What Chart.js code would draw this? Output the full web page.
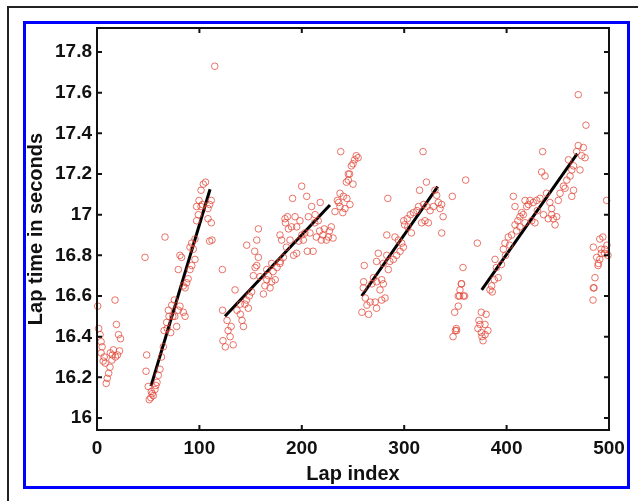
<!DOCTYPE html>
<html>
<head>
<meta charset="utf-8">
<script src="https://cdn.jsdelivr.net/npm/chart.js@4"></script>
<style>
    html, body { margin: 0; padding: 0; background: #fff; }
    body { width: 638px; height: 501px; position: relative; overflow: hidden; }
    #frame { position: absolute; left: 7px; top: 6px; width: 700px; height: 600px;
             border-left: 2px solid #222; border-top: 2px solid #222; }
    #blue-box { position: absolute; left: 23px; top: 21px; width: 607px; height: 468px;
                box-sizing: border-box; border: 3px solid #0000ff; }
    #chart-wrap { position: absolute; left: 0; top: 0; width: 638px; height: 501px; }
</style>
</head>
<body>
<div id="frame"></div>
<div id="blue-box"></div>
<div id="chart-wrap"><canvas id="lap-chart" width="638" height="501"></canvas></div>
<script>
// Datos: indice de vuelta y tiempo (s), agrupados por tanda
const lapIndex = [
    // tanda 1
    0.7, 1.6, 3, 4, 4, 5, 6, 7, 8, 9, 10, 11.4, 12.7, 13, 14.6, 15, 16, 17.6, 18, 19, 20, 21, 22, 23,
    // tanda 2
    46.9, 47.9, 48.5, 50, 51, 52.5, 53, 54, 55, 56.6, 57.5, 58.6, 59.9, 61.5, 63, 64.8, 65.5, 66.4, 68, 68.6,
    69.7, 70.3, 72, 73, 74, 75.5, 76, 77.8, 79.4, 81, 84.3, 86, 79.4, 81, 82.6, 84.3, 86, 87.6, 89, 90.8,
    92.5, 90.8, 94, 95.7, 95.7, 92.5, 97.3, 99, 97.3, 99.6, 101.6, 103.8, 106, 101.6, 102.9, 108.4, 110, 111.6,
    108.4, 111.6, 110, 112.3, 115,
    // tanda 3
    122.4, 122.6, 123, 125.3, 127, 128, 130, 131, 133, 134.8, 136.7, 140, 141.6, 143, 140, 144.5, 146, 148.7,
    151, 147.8, 152.7, 154.4, 156, 157.6, 162.5, 164, 165.8, 167.4, 169, 170.6, 172, 174, 175.8, 179, 182, 192,
    146.2, 154, 156, 157.6, 159.2, 165.8, 170.6, 178.7, 180.3, 178.7, 185, 183.6, 187, 188.5, 190, 191, 193.4,
    195, 198.2, 199.9, 201.5, 203, 204.8, 206.4, 209.6, 208, 212.6, 214.2, 217.4, 219, 220.7, 224, 227, 228.8,
    230.5, 205.4, 211, 195, 232.4, 234.7, 237.3, 240.6, 242.2, 237.3, 238, 245.4, 245.4, 243.5, 246.7, 248.4,
    250, 251.6, 253.2, 255, 250, 236, 240, 244, 247, 184, 186, 197, 200, 216, 222, 226, 213, 218,
    // tanda 4
    258.7, 260, 260.4, 261, 262, 263.6, 265.2, 266.8, 268.5, 270, 271.6, 273, 273, 273, 274.7, 276.4, 278, 278,
    279.6, 279.6, 281.3, 283, 283, 284, 284.5, 286, 289.4, 291, 292.6, 294.3, 296, 297.6, 299.2, 299.5, 300.4,
    303, 303.6, 306, 307, 309, 312.5, 314, 315, 317, 318.4, 319, 320.3, 321.7, 322, 323.6, 325.3, 328.5, 330,
    331.7, 333.3, 335, 336.5, 336.6, 338, 347, 360,
    // tanda 5
    347.7, 349.3, 350.9, 350, 351.2, 352.8, 352.8, 354.1, 354.5, 355.8, 357.4, 357.8, 359, 356,
    // tanda 6
    371.4, 372, 373, 374, 375.3, 375.3, 377, 378.9, 380, 381.8, 376, 379, 383.8, 385.4, 388, 388.7, 390, 391.8,
    395, 396.8, 398.4, 401.6, 404.9, 408.2, 409.8, 413, 414.7, 416.3, 419.6, 422.9, 426, 429.4, 432.6, 406.6,
    408.2, 418, 421.3, 427.7, 424.5, 418, 413, 435.2, 434.2, 437.5, 439, 442.3, 444, 440.7, 445.6, 447.3, 448.9,
    444, 450.5, 452.2, 455.5, 458.8, 457.1, 462, 463.7, 465.4, 460.4, 463.7, 465.4, 468.4, 470, 475, 473.3,
    471.7, 476.6, 470, 477.5, 386, 399, 403, 411, 430, 436,
    // tanda 7
    484.4, 484.7, 485.4, 486.3, 484.7, 488, 489.3, 489.6, 491, 491, 492.3, 492.6, 494, 495.6, 495.9, 497.7,
    498, 499
];

const lapTime = [
    // tanda 1
    16.55, 16.44, 16.41, 16.375, 16.32, 16.35, 16.28, 16.30, 16.27, 16.17, 16.195, 16.22, 16.25, 16.32, 16.285,
    16.31, 16.335, 16.58, 16.30, 16.46, 16.31, 16.41, 16.33, 16.39,
    // tanda 2
    16.79, 16.23, 16.31, 16.155, 16.09, 16.10, 16.13, 16.12, 16.11, 16.14, 16.16, 16.175, 16.21, 16.24, 16.30,
    16.35, 16.43, 16.89, 16.47, 16.44, 16.53, 16.50, 16.42, 16.555, 16.50, 16.58, 16.50, 16.45, 16.53, 16.55,
    16.52, 16.50, 16.73, 16.80, 16.79, 16.65, 16.64, 16.665, 16.685, 16.73, 16.75, 16.84, 16.83, 16.78, 16.88,
    16.86, 16.97, 17.00, 17.04, 17.07, 17.12, 17.15, 17.16, 17.04, 17.05, 17.03, 17.05, 17.07, 16.98, 16.96,
    16.87, 16.875, 17.73,
    // tanda 3
    16.73, 16.53, 16.38, 16.35, 16.48, 16.43, 16.40, 16.45, 16.36, 16.63, 16.53, 16.51, 16.48, 16.45, 16.56,
    16.56, 16.58, 16.60, 16.62, 16.54, 16.70, 16.74, 16.75, 16.79, 16.61, 16.65, 16.68, 16.70, 16.64, 16.67,
    16.72, 16.68, 16.74, 16.77, 16.79, 16.80, 16.85, 16.82, 16.875, 16.93, 16.695, 16.73, 16.76, 16.76, 16.875,
    16.90, 16.84, 16.98, 16.93, 16.875, 16.94, 17.08, 16.99, 16.94, 16.97, 17.14, 16.875, 16.91, 17.09, 16.99,
    17.04, 16.91, 16.96, 16.89, 16.92, 16.875, 16.90, 16.875, 16.92, 16.94, 16.885, 16.82, 16.82, 16.81,
    17.015, 17.07, 17.105, 17.09, 17.03, 17.04, 17.31, 17.20, 17.17, 17.16, 17.20, 17.24, 17.25, 17.27, 17.29,
    17.28, 17.15, 17.06, 17.01, 17.08, 17.05, 16.96, 16.99, 16.87, 16.90, 16.97, 16.93, 16.89, 17.00, 17.06,
    // tanda 4
    16.52, 16.64, 16.67, 16.75, 16.59, 16.555, 16.51, 16.57, 16.66, 16.69, 16.57, 16.54, 16.67, 16.77, 16.81,
    16.63, 16.68, 16.58, 16.66, 16.76, 16.59, 16.80, 16.90, 17.08, 16.73, 16.77, 16.78, 16.89, 16.80, 16.875,
    16.82, 16.86, 16.84, 16.97, 16.95, 16.98, 16.94, 17.00, 16.91, 17.01, 17.02, 17.04, 17.12, 16.96, 17.31,
    17.05, 16.97, 17.16, 17.04, 16.96, 17.02, 17.04, 17.12, 17.095, 17.06, 17.03, 17.05, 16.91, 16.99, 17.09,
    17.17,
    // tanda 5
    16.40, 16.52, 16.44, 16.43, 16.43, 16.55, 16.60, 16.60, 16.63, 16.66, 16.74, 16.60, 16.60, 16.66,
    // tanda 6
    16.86, 16.44, 16.48, 16.46, 16.52, 16.42, 16.38, 16.46, 16.51, 16.43, 16.40, 16.41, 16.63, 16.65, 16.68,
    16.78, 16.74, 16.69, 16.755, 16.83, 16.86, 16.89, 16.90, 16.95, 16.92, 16.99, 17.01, 17.00, 17.04, 17.07,
    17.06, 17.07, 17.08, 17.09, 17.04, 17.07, 17.05, 16.96, 16.97, 16.96, 16.94, 17.31, 17.21, 17.19, 17.105,
    17.06, 17.03, 16.98, 16.98, 16.95, 16.99, 17.00, 17.07, 17.105, 17.14, 17.17, 17.13, 17.19, 17.22, 17.24,
    17.27, 17.09, 17.12, 17.31, 17.34, 17.33, 17.29, 17.22, 17.28, 17.59, 17.44, 16.62, 16.80, 16.85, 16.97,
    17.02, 17.00,
    // tanda 7
    16.58, 16.64, 16.64, 16.69, 16.84, 16.79, 16.75, 16.76, 16.78, 16.88, 16.83, 16.81, 16.89, 16.81, 16.83,
    17.07, 16.85, 16.80
];

// Rectas de ajuste por tanda (inicio y fin)
const fitLapStart = [52.7, 125, 258.5, 375.7];
const fitTimeStart = [16.157, 16.50, 16.60, 16.63];
const fitLapEnd = [110.4, 227.5, 332.7, 469];
const fitTimeEnd = [17.125, 17.048, 17.138, 17.30];

// Ejes
const xTicks = [0, 100, 200, 300, 400, 500];
const yTicks = [16, 16.2, 16.4, 16.6, 16.8, 17, 17.2, 17.4, 17.6, 17.8];
const yTickLabels = ['16', '16.2', '16.4', '16.6', '16.8', '17', '17.2', '17.4', '17.6', '17.8'];
const X_RANGE = [0, 500];
const Y_RANGE = [15.941, 17.918];

const FAMILY = '"Liberation Sans", Arial, Helvetica, sans-serif';
const TICK_FONT = { family: FAMILY, size: 19, weight: 'bold' };
const TITLE_FONT = { family: FAMILY, size: 20, weight: 'bold' };

// Construccion de los datasets
const points = lapIndex.map((x, i) => ({ x: x, y: lapTime[i] }));

const fitDatasets = fitLapStart.map((x0, i) => ({
    type: 'line',
    data: [{ x: x0, y: fitTimeStart[i] }, { x: fitLapEnd[i], y: fitTimeEnd[i] }],
    borderColor: '#000',
    borderWidth: 3,
    pointRadius: 0,
    fill: false
}));

// Caja con marcas hacia dentro, estilo MATLAB
const boxPlugin = {
    id: 'matlabBox',
    afterDatasetsDraw(chart) {
        const { ctx, chartArea: a, scales } = chart;
        const len = 5;
        ctx.save();
        ctx.strokeStyle = '#111';
        ctx.lineWidth = 2;
        ctx.strokeRect(a.left, a.top, a.right - a.left, a.bottom - a.top);
        ctx.beginPath();
        xTicks.forEach(v => {
            const px = scales.x.getPixelForValue(v);
            ctx.moveTo(px, a.bottom); ctx.lineTo(px, a.bottom - len);
            ctx.moveTo(px, a.top); ctx.lineTo(px, a.top + len);
        });
        yTicks.forEach(v => {
            const py = scales.y.getPixelForValue(v);
            ctx.moveTo(a.left, py); ctx.lineTo(a.left + len, py);
            ctx.moveTo(a.right, py); ctx.lineTo(a.right - len, py);
        });
        ctx.stroke();
        ctx.restore();
    }
};

// Inicializacion
const ctx = document.getElementById('lap-chart').getContext('2d');
new Chart(ctx, {
    type: 'scatter',
    data: {
        datasets: [{
            data: points,
            showLine: false,
            pointStyle: 'circle',
            pointRadius: 3.3,
            pointBorderWidth: 1,
            borderColor: 'rgba(226, 70, 55, 0.75)',
            backgroundColor: 'rgba(0, 0, 0, 0)',
            clip: false
        }].concat(fitDatasets)
    },
    options: {
        responsive: false,
        animation: false,
        events: [],
        layout: { padding: { left: 0, top: 28, right: 29, bottom: 0 } },
        plugins: {
            legend: { display: false },
            tooltip: { enabled: false }
        },
        scales: {
            x: {
                type: 'linear',
                min: X_RANGE[0],
                max: X_RANGE[1],
                afterFit: s => { s.height = 71; },
                afterBuildTicks: s => { s.ticks = xTicks.map(v => ({ value: v })); },
                grid: { display: false, drawTicks: false },
                border: { display: false },
                ticks: { color: '#111', font: TICK_FONT, padding: 7, maxRotation: 0 },
                title: { display: true, text: 'Lap index', color: '#111', font: TITLE_FONT,
                         padding: { top: 0, bottom: 15 } }
            },
            y: {
                type: 'linear',
                min: Y_RANGE[0],
                max: Y_RANGE[1],
                afterFit: s => { s.width = 97; },
                afterBuildTicks: s => { s.ticks = yTicks.map(v => ({ value: v })); },
                grid: { display: false, drawTicks: false },
                border: { display: false },
                ticks: {
                    color: '#111', font: TICK_FONT, padding: 5,
                    callback: (v) => yTickLabels[yTicks.indexOf(v)]
                },
                title: { display: true, text: 'Lap time in seconds', color: '#111', font: TITLE_FONT,
                         padding: { top: 24, bottom: 0 } }
            }
        }
    },
    plugins: [boxPlugin]
});
</script>
</body>
</html>
